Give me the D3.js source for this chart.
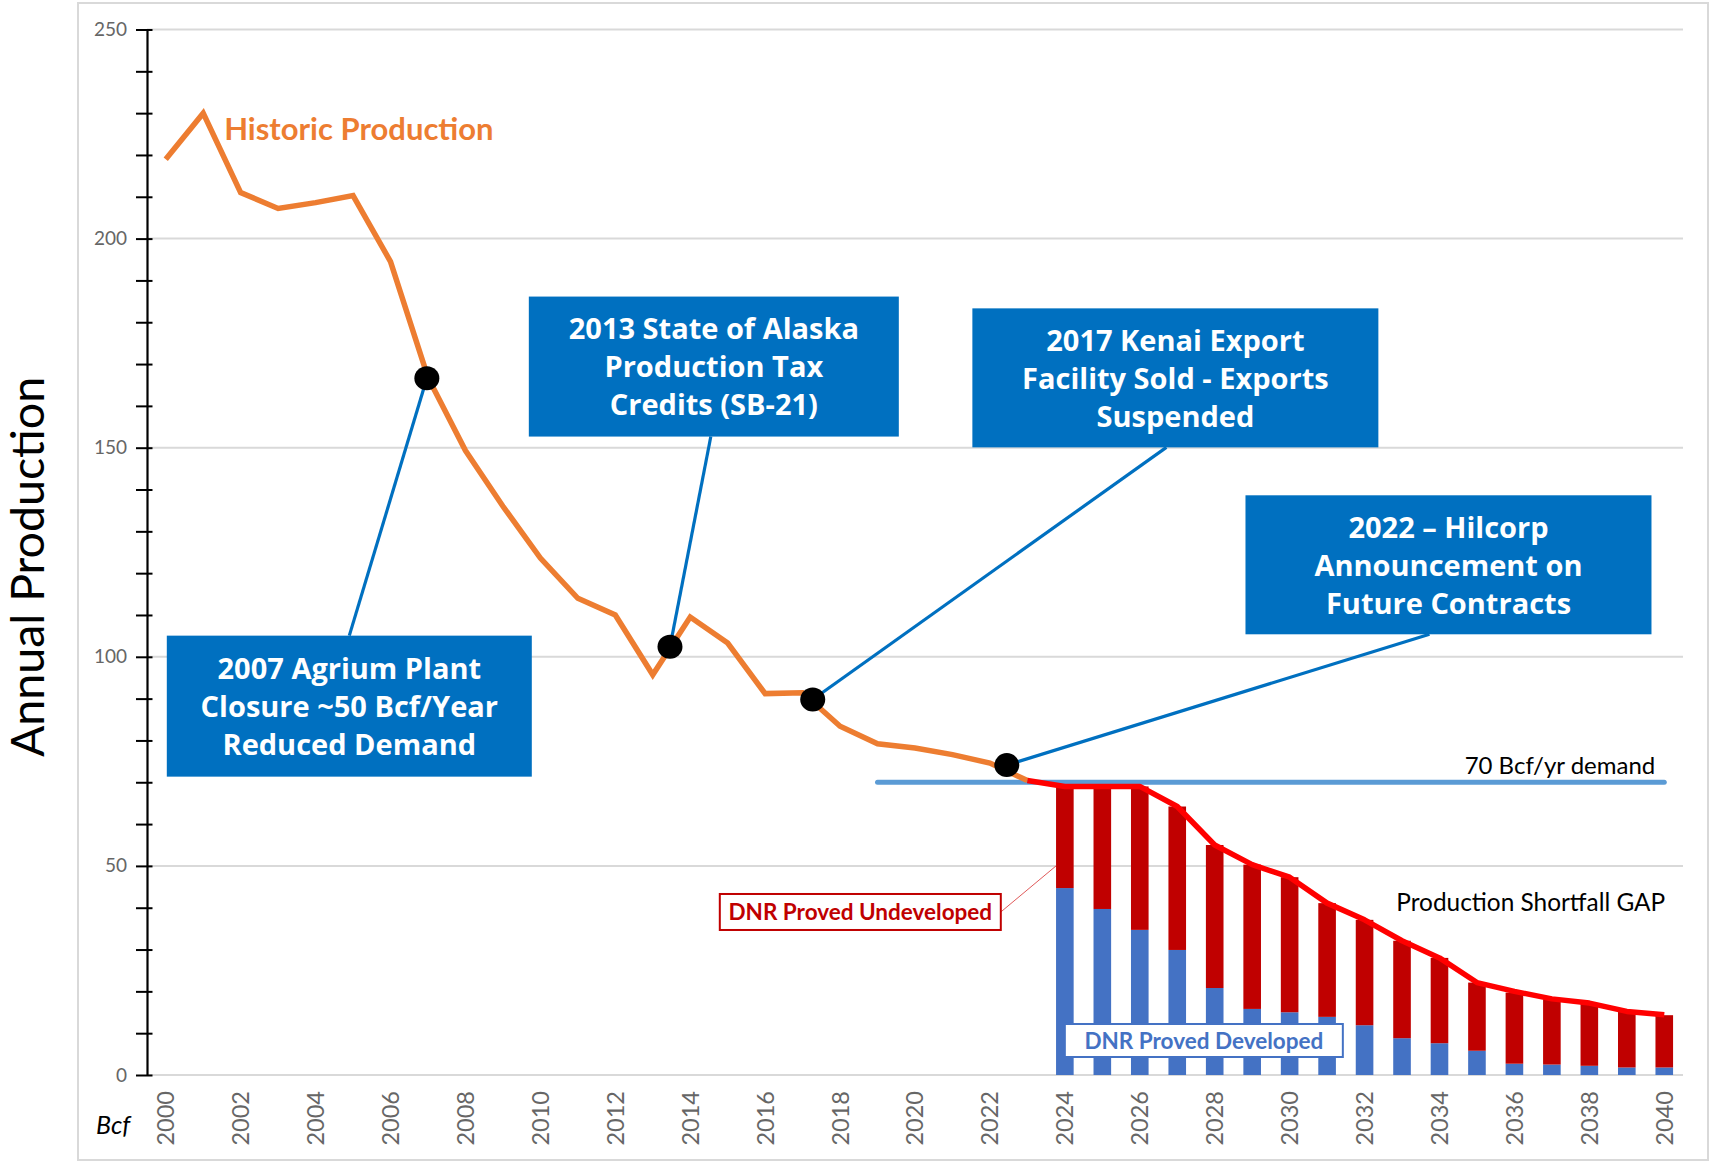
<!DOCTYPE html>
<html>
<head>
<meta charset="utf-8">
<script src="https://cdn.jsdelivr.net/npm/d3@7"></script>
<style>
  body { margin: 0; background: #fff; }
  svg { display: block; }
</style>
</head>
<body>
<svg id="chart" width="1710" height="1162"></svg>
<script>
// categories
const years = [2000, 2001, 2002, 2003, 2004, 2005, 2006, 2007, 2008, 2009, 2010,
  2011, 2012, 2013, 2014, 2015, 2016, 2017, 2018, 2019, 2020,
  2021, 2022, 2023, 2024, 2025, 2026, 2027, 2028, 2029, 2030,
  2031, 2032, 2033, 2034, 2035, 2036, 2037, 2038, 2039, 2040];
const labelYears = [2000, 2002, 2004, 2006, 2008, 2010, 2012, 2014, 2016, 2018, 2020,
  2022, 2024, 2026, 2028, 2030, 2032, 2034, 2036, 2038, 2040];
const yTickValues = [0, 10, 20, 30, 40, 50, 60, 70, 80, 90, 100, 110, 120, 130, 140, 150,
  160, 170, 180, 190, 200, 210, 220, 230, 240, 250];
const yLabelValues = [0, 50, 100, 150, 200, 250];

// historic production, Bcf
const historicYears = [2000, 2001, 2002, 2003, 2004, 2005, 2006, 2007, 2008, 2009, 2010, 2011,
  2012, 2013, 2014, 2015, 2016, 2017, 2018, 2019, 2020, 2021, 2022, 2023];
const historic = [219, 230, 211, 207.2, 208.6, 210.3, 194.5, 166.8, 149.3, 136, 123.6, 114,
  110, 95.7, 109.5, 103.3, 91.2, 91.4, 83.4, 79.2, 78.2, 76.6, 74.6, 70.4];

// forecast total (red line)
const forecastYears = [2023, 2024, 2025, 2026, 2027, 2028, 2029, 2030, 2031, 2032, 2033,
  2034, 2035, 2036, 2037, 2038, 2039, 2040];
const forecastTotal = [70.4, 69, 69, 69, 64.2, 55, 50.3, 47.3, 41.1, 37.1, 32.1,
  28, 22.1, 20, 18.2, 17.2, 15.2, 14.4];

// stacked bars
const barYears = [2024, 2025, 2026, 2027, 2028, 2029, 2030, 2031, 2032, 2033, 2034,
  2035, 2036, 2037, 2038, 2039, 2040];
const developed = [44.7, 39.7, 34.7, 29.9, 20.8, 15.8, 15.0, 13.9, 11.9, 8.8, 7.6,
  5.8, 2.7, 2.5, 2.2, 1.8, 1.8];
const undeveloped = [24.3, 29.3, 34.3, 34.3, 34.2, 34.5, 32.3, 27.2, 25.2, 23.3, 20.4,
  16.3, 17.0, 15.6, 15.0, 13.3, 12.5];

const demand = 70;
const demandFrom = 2019;

// callouts: event text and the point on the curve it refers to
const calloutText = [
  ['2007 Agrium Plant', 'Closure ~50 Bcf/Year', 'Reduced Demand'],
  ['2013 State of Alaska', 'Production Tax', 'Credits (SB-21)'],
  ['2017 Kenai Export', 'Facility Sold - Exports', 'Suspended'],
  ['2022 \u2013 Hilcorp', 'Announcement on', 'Future Contracts']
];
const calloutYear = [2006.97, 2013.46, 2017.27, 2022.45];
const calloutValue = [166.6, 102.4, 89.8, 74.1];

// where the boxes sit (in axis units) and how big they are
const calloutLayout = [
  {x: 2004.9, y: 88.2, w: 365, h: 141, side: 'top', dx: 0},
  {x: 2014.63, y: 169.4, w: 370, h: 140, side: 'bottom', dx: -3},
  {x: 2026.95, y: 166.7, w: 406, h: 139, side: 'bottom', dx: -9},
  {x: 2034.24, y: 122.0, w: 406, h: 139, side: 'bottom', dx: -19}
];

const svg = d3.select('#chart');

const x = d3.scaleBand()
  .domain(years)
  .range([147, 1683])
  .paddingInner(0.53)
  .paddingOuter(0.265);
const cx = d => x(d) + x.bandwidth() / 2;
const xl = d3.scaleLinear().domain([2000, 2040]).range([cx(2000), cx(2040)]);
const y = d3.scaleLinear().domain([0, 250]).range([1075, 29.5]);

// outer frame
svg.append('rect')
  .attr('x', 78).attr('y', 3).attr('width', 1630).attr('height', 1157)
  .attr('fill', 'none').attr('stroke', '#d9d9d9').attr('stroke-width', 2);

// gridlines
svg.append('g')
  .selectAll('line')
  .data(yLabelValues)
  .enter().append('line')
  .attr('x1', 147).attr('x2', 1683)
  .attr('y1', d => y(d)).attr('y2', d => y(d))
  .attr('stroke', '#d9d9d9').attr('stroke-width', 2);

// y axis with crossing ticks
let yAxis = svg.append('g')
  .attr('transform', 'translate(147,0)')
  .call(d3.axisLeft(y)
    .tickValues(yTickValues)
    .tickSizeInner(11)
    .tickSizeOuter(0)
    .tickPadding(9)
    .tickFormat(d => yLabelValues.includes(d) ? d : ''));
yAxis.select('.domain').attr('stroke', '#000').attr('stroke-width', 2.2);
yAxis.selectAll('.tick line').attr('x1', 5.5).attr('stroke', '#000').attr('stroke-width', 2);
yAxis.selectAll('.tick text')
  .attr('fill', '#666')
  .style('font-family', 'Lato, sans-serif')
  .style('font-size', '19px');

// x axis labels
let xAxis = svg.append('g')
  .attr('transform', 'translate(0,1075)')
  .call(d3.axisBottom(x).tickValues(labelYears).tickSize(0));
xAxis.select('.domain').remove();
xAxis.selectAll('.tick text')
  .attr('transform', 'rotate(-90)')
  .attr('x', -16).attr('y', 0).attr('dy', '0.36em')
  .style('text-anchor', 'end')
  .attr('fill', '#666')
  .style('font-family', 'Lato, sans-serif')
  .style('font-size', '23.5px');

// stacked bars
const barRows = barYears.map((yr, i) => ({year: yr, dev: developed[i], und: undeveloped[i]}));
let bars = svg.append('g');
bars.selectAll('rect.dev')
  .data(barRows)
  .enter().append('rect')
  .attr('class', 'dev')
  .attr('x', d => x(d.year)).attr('width', x.bandwidth())
  .attr('y', d => y(d.dev)).attr('height', d => y(0) - y(d.dev))
  .attr('fill', '#4472c4');
bars.selectAll('rect.und')
  .data(barRows)
  .enter().append('rect')
  .attr('class', 'und')
  .attr('x', d => x(d.year)).attr('width', x.bandwidth())
  .attr('y', d => y(d.dev + d.und)).attr('height', d => y(d.dev) - y(d.dev + d.und))
  .attr('fill', '#c00000');

// demand line
svg.append('line')
  .attr('x1', cx(demandFrom)).attr('x2', cx(2040))
  .attr('y1', y(demand)).attr('y2', y(demand))
  .attr('stroke', '#5b9bd5').attr('stroke-width', 5).attr('stroke-linecap', 'round');

svg.append('text')
  .attr('x', cx(2040) - 9).attr('y', y(demand) - 8)
  .attr('text-anchor', 'end')
  .style('font-family', 'Lato, sans-serif').style('font-size', '24px')
  .attr('fill', '#000')
  .text('70 Bcf/yr demand');

// lines
const line = d3.line().x(d => cx(d[0])).y(d => y(d[1]));
svg.append('path')
  .datum(historicYears.map((yr, i) => [yr, historic[i]]))
  .attr('d', line)
  .attr('fill', 'none').attr('stroke', '#ed7d31').attr('stroke-width', 5.5);
svg.append('path')
  .datum(forecastYears.map((yr, i) => [yr, forecastTotal[i]]))
  .attr('d', line)
  .attr('fill', 'none').attr('stroke', '#ff0000').attr('stroke-width', 5.5)
  .attr('stroke-linejoin', 'round');

svg.append('text')
  .attr('x', xl(2001.56)).attr('y', y(223.6))
  .style('font-family', 'Lato, sans-serif').style('font-size', '31px').style('font-weight', 'bold')
  .attr('fill', '#ed7d31')
  .text('Historic Production');

svg.append('text')
  .attr('x', cx(2040) + 1).attr('y', y(39.1))
  .attr('text-anchor', 'end')
  .style('font-family', 'Lato, sans-serif').style('font-size', '24.4px')
  .attr('fill', '#000')
  .text('Production Shortfall GAP');

// series labels in boxes
function seriesLabel(txt, year, value, w, h, color) {
  let g = svg.append('g').attr('transform', 'translate(' + xl(year) + ',' + y(value) + ')');
  g.append('rect')
    .attr('x', -w / 2).attr('y', -h / 2).attr('width', w).attr('height', h)
    .attr('fill', '#fff').attr('stroke', color).attr('stroke-width', 2);
  g.append('text')
    .attr('text-anchor', 'middle').attr('dy', '0.36em')
    .style('font-family', 'Lato, sans-serif').style('font-size', '22.5px').style('font-weight', 'bold')
    .attr('fill', color)
    .text(txt);
}

svg.append('line')
  .attr('x1', xl(2018.54) + 140.5).attr('y1', y(38.98))
  .attr('x2', x(2024)).attr('y2', y(50))
  .attr('stroke', '#e05a5a').attr('stroke-width', 1);
seriesLabel('DNR Proved Undeveloped', 2018.54, 38.98, 281, 36, '#c00000');
seriesLabel('DNR Proved Developed', 2027.71, 8.25, 278, 33, '#4472c4');

// callouts
const callouts = calloutText.map((lines, i) => Object.assign({
  lines: lines, year: calloutYear[i], value: calloutValue[i]
}, calloutLayout[i]));

let cg = svg.append('g');
cg.selectAll('line')
  .data(callouts)
  .enter().append('line')
  .attr('x1', d => xl(d.x) + d.dx)
  .attr('y1', d => y(d.y) + (d.side === 'top' ? -d.h / 2 : d.h / 2))
  .attr('x2', d => xl(d.year)).attr('y2', d => y(d.value))
  .attr('stroke', '#0070c0').attr('stroke-width', 3.2);
cg.selectAll('ellipse')
  .data(callouts)
  .enter().append('ellipse')
  .attr('cx', d => xl(d.year)).attr('cy', d => y(d.value))
  .attr('rx', 12.5).attr('ry', 12)
  .attr('fill', '#000');

let box = cg.selectAll('g.box')
  .data(callouts)
  .enter().append('g')
  .attr('class', 'box')
  .attr('transform', d => 'translate(' + xl(d.x) + ',' + y(d.y) + ')');
box.append('rect')
  .attr('x', d => -d.w / 2).attr('y', d => -d.h / 2)
  .attr('width', d => d.w).attr('height', d => d.h)
  .attr('fill', '#0070c0');
box.selectAll('text')
  .data(d => d.lines.map((t, j) => ({t: t, j: j, n: d.lines.length})))
  .enter().append('text')
  .attr('text-anchor', 'middle')
  .attr('y', d => (d.j - (d.n - 1) / 2) * 38)
  .attr('dy', '0.37em')
  .style('font-family', '"Open Sans", sans-serif').style('font-size', '29px').style('font-weight', 'bold')
  .attr('fill', '#fff')
  .text(d => d.t);

// axis titles
svg.append('text')
  .attr('transform', 'translate(27,567) rotate(-90)')
  .attr('text-anchor', 'middle').attr('dy', '0.36em')
  .style('font-family', 'Lato, sans-serif').style('font-size', '46.5px')
  .attr('fill', '#000')
  .text('Annual Production');

svg.append('text')
  .attr('x', 96).attr('y', 1134)
  .style('font-family', 'Lato, sans-serif').style('font-size', '25px').style('font-style', 'italic')
  .attr('fill', '#000')
  .text('Bcf');
</script>
</body>
</html>
